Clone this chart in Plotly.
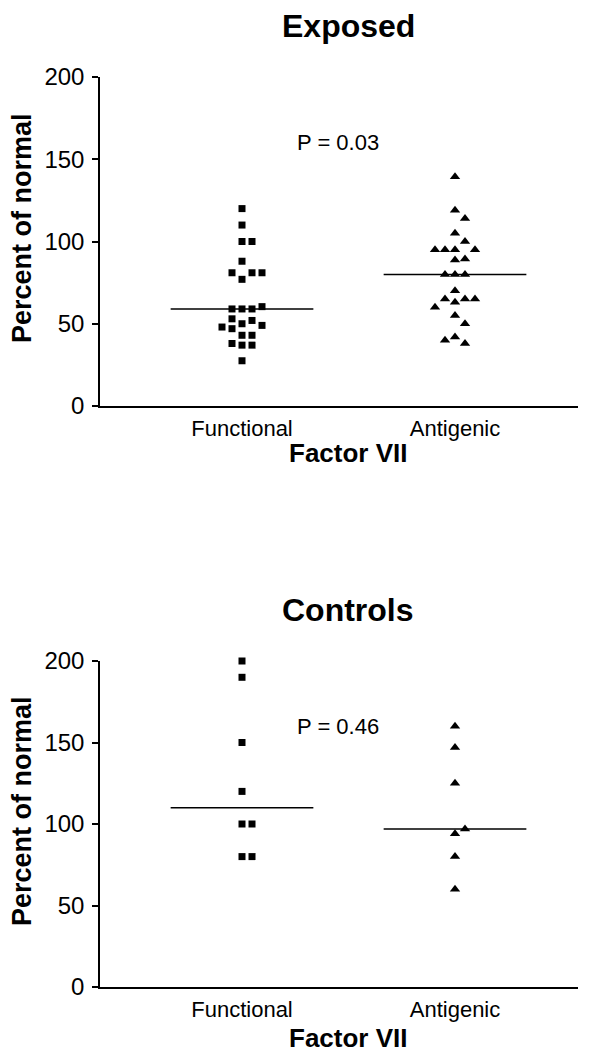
import numpy as np
import plotly.graph_objects as go

# ---- data ----
categories = ["Functional", "Antigenic"]
panel_titles = ["Exposed", "Controls"]
p_labels = ["P = 0.03", "P = 0.46"]
y_ticks = [0, 50, 100, 150, 200]

exposed_functional = [120, 110, 100, 100, 88, 77, 81, 81, 81, 59, 59, 59, 60.4,
                      50, 52, 53, 49, 47, 48, 43, 43, 37, 37, 38, 27.5]
exposed_antigenic = [139.4, 119, 114, 105, 100, 95, 95, 95, 95, 89.4, 88.8,
                     80, 80, 80, 70, 65, 65, 65, 63, 60, 55, 50, 42, 38, 40]
controls_functional = [200, 190, 150, 120, 100, 100, 80, 80]
controls_antigenic = [160, 147, 125, 94, 97, 80, 60]

FONT = "Liberation Sans, Arial, sans-serif"
STEP = 10 / 213.0      # horizontal dodge step (category units)
GAP = 6.0              # minimal vertical separation (value units) in same slot


def swarm_offsets(values):
    """Deterministic beeswarm dodge: first free slot 0, +1, -1, +2, -2 ..."""
    order = [0, 1, -1, 2, -2, 3, -3, 4, -4]
    placed = []
    out = []
    for v in values:
        chosen = order[-1]
        for s in order:
            if all(not (ps == s and abs(pv - v) < GAP) for ps, pv in placed):
                chosen = s
                break
        placed.append((chosen, v))
        out.append(chosen * STEP)
    return out


fig = go.Figure()

panels = [
    ("x", "y", exposed_functional, exposed_antigenic),
    ("x2", "y2", controls_functional, controls_antigenic),
]

shapes = []
for xa, ya, func, anti in panels:
    for ci, (vals, sym, size) in enumerate([(func, "square", 7), (anti, "triangle-up", 9)]):
        offs = swarm_offsets(vals)
        fig.add_trace(go.Scatter(
            x=[ci + o for o in offs], y=vals, mode="markers",
            marker=dict(symbol=sym, size=size, color="black", line=dict(width=0)),
            xaxis=xa, yaxis=ya, cliponaxis=False, showlegend=False,
            hoverinfo="y",
        ))
        med = float(np.median(vals))
        shapes.append(dict(type="line", xref=xa, yref=ya,
                           x0=ci - 0.335, x1=ci + 0.335, y0=med, y1=med,
                           line=dict(color="black", width=1.5)))

x_dom = [100 / 595, 578 / 595]
x_rng = [(100 - 242) / 213, (578 - 242) / 213]
top_dom = [1 - 406 / 1055, 1 - 77 / 1055]
bot_dom = [1 - 987 / 1055, 1 - 661 / 1055]

xaxis_common = dict(
    domain=x_dom, range=x_rng, tickvals=[0, 1], ticktext=categories,
    ticks="", showline=True, linecolor="black", linewidth=1.5,
    showgrid=False, zeroline=False, automargin=False,
    tickfont=dict(family=FONT, size=22, color="black"),
    ticklabelstandoff=2, fixedrange=True,
)
yaxis_common = dict(
    range=[0, 200], tickvals=y_ticks, ticks="outside", ticklen=6,
    tickwidth=1.5, tickcolor="black", showline=True, linecolor="black",
    linewidth=1.5, showgrid=False, zeroline=False, automargin=False,
    tickfont=dict(family=FONT, size=24, color="black"),
    ticklabelstandoff=3, fixedrange=True,
)

fig.update_layout(
    width=595, height=1055,
    margin=dict(l=0, r=0, t=0, b=0, pad=0, autoexpand=False),
    paper_bgcolor="white", plot_bgcolor="white",
    xaxis=dict(anchor="y", **xaxis_common),
    yaxis=dict(anchor="x", domain=top_dom, **yaxis_common),
    xaxis2=dict(anchor="y2", **xaxis_common),
    yaxis2=dict(anchor="x2", domain=bot_dom, **yaxis_common),
    shapes=shapes,
)

ann = []
bold = dict(family=FONT, color="black", weight="bold")
title_y = [1 - 26 / 1055, 1 - 610 / 1055]
xtitle_y = [1 - 453 / 1055, 1 - 1038 / 1055]
ytitle_y = [1 - 228 / 1055, 1 - 811 / 1055]
for i, (xa, ya) in enumerate([("x", "y"), ("x2", "y2")]):
    ann.append(dict(text=panel_titles[i], xref="paper", yref="paper",
                    x=348 / 595, y=title_y[i], xanchor="center", yanchor="middle",
                    showarrow=False, font=dict(size=32, **bold)))
    ann.append(dict(text="Factor VII", xref="paper", yref="paper",
                    x=348 / 595, y=xtitle_y[i], xanchor="center", yanchor="middle",
                    showarrow=False, font=dict(size=26, **bold)))
    ann.append(dict(text="Percent of normal", xref="paper", yref="paper",
                    x=22 / 595, y=ytitle_y[i], xanchor="center", yanchor="middle",
                    textangle=-90, showarrow=False, font=dict(size=27, **bold)))
    ann.append(dict(text=p_labels[i], xref=xa, yref=ya, x=0.45, y=160,
                    xanchor="center", yanchor="middle", showarrow=False,
                    font=dict(family=FONT, size=22, color="black")))
fig.update_layout(annotations=ann)

fig.write_html("out.html")
